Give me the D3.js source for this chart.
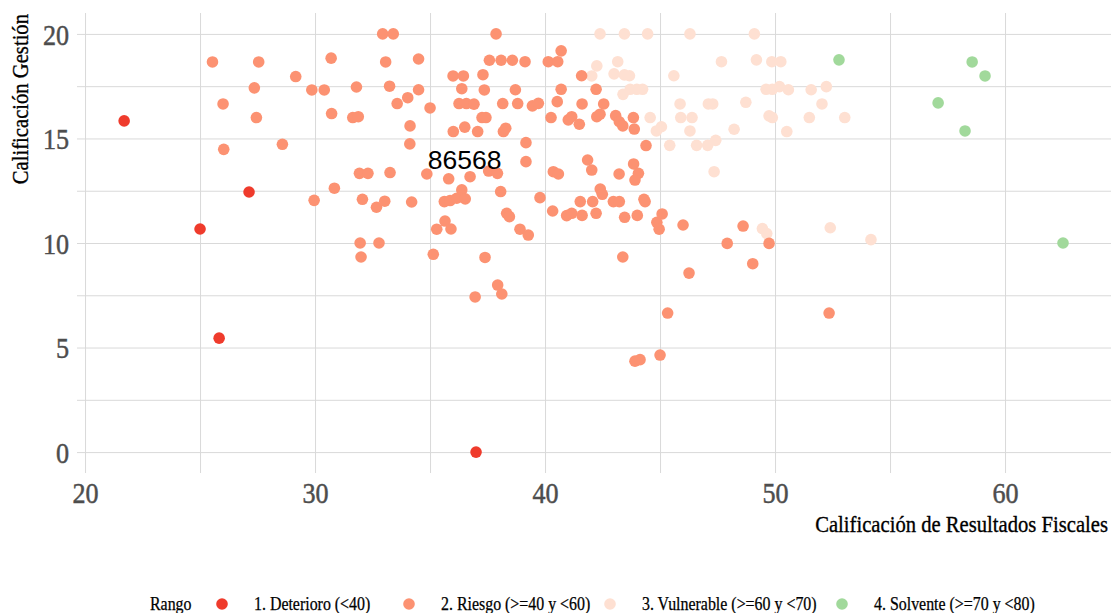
<!DOCTYPE html>
<html>
<head>
<meta charset="utf-8">
<script src="https://cdn.jsdelivr.net/npm/d3@7"></script>
<style>
  html, body { margin: 0; padding: 0; background: #fff; }
  svg { display: block; }
</style>
</head>
<body>
<div id="chart"></div>
<script>
// Calificación de Resultados Fiscales (x) vs Calificación Gestión (y)

const rangos   = ['1. Deterioro (<40)', '2. Riesgo (>=40 y <60)', '3. Vulnerable (>=60 y <70)', '4. Solvente (>=70 y <80)'];
const colores  = ['#EF3B2C', '#FC9272', '#FEE0D2', '#A1D99B'];

const xTicks = [20, 30, 40, 50, 60];
const yTicks = [0, 5, 10, 15, 20];
const xMinor = [25, 35, 45, 55];
const yMinor = [2.5, 7.5, 12.5, 17.5];

const etiqueta = { texto: '86568', x: 36.5, y: 14.0 };

// [resultados fiscales, gestión]
const deterioro = [
  [21.70, 15.84], [25.00, 10.67], [27.13, 12.44], [25.83, 5.45], [37.00, 0.00]
];

const vulnerable = [
  [42.39, 20.00], [43.45, 20.00], [44.46, 20.00], [46.30, 20.00], [49.10, 20.00],
  [42.25, 18.47], [43.16, 18.67], [42.03, 17.99], [43.00, 18.09], [43.45, 18.04],
  [43.67, 18.00], [45.60, 18.00], [47.67, 18.67], [49.19, 18.76], [49.86, 18.67],
  [50.25, 18.67], [43.39, 17.11], [43.70, 17.35], [43.99, 17.35], [44.24, 17.35],
  [49.61, 17.35], [49.88, 17.35], [50.19, 17.48], [50.58, 17.33], [51.57, 17.33],
  [52.23, 17.48], [45.87, 16.65], [47.10, 16.65], [47.29, 16.65], [48.73, 16.73],
  [52.04, 16.65], [44.57, 16.00], [45.90, 16.00], [46.39, 16.00], [49.74, 16.08],
  [49.88, 16.00], [51.49, 16.00], [53.03, 16.00], [44.84, 15.36], [45.06, 15.56],
  [46.30, 15.36], [48.22, 15.44], [50.51, 15.33], [45.42, 14.67], [46.59, 14.67],
  [47.07, 14.67], [47.42, 14.91], [47.35, 13.41], [49.45, 10.69], [49.64, 10.45],
  [52.40, 10.73], [54.17, 10.16]
];

const riesgo = [
  [25.54, 18.66], [27.55, 18.66], [29.16, 17.96], [30.70, 18.84], [27.36, 17.42],
  [29.86, 17.32], [30.40, 17.32], [31.80, 17.46], [26.00, 16.65], [27.45, 16.00],
  [30.72, 16.19], [31.64, 16.00], [31.88, 16.04], [26.03, 14.48], [28.58, 14.72],
  [31.93, 13.33], [32.30, 13.33], [30.84, 12.62], [29.96, 12.04], [32.06, 12.09],
  [31.96, 10.00], [32.00, 9.33], [32.94, 20.00], [33.40, 20.00], [33.07, 18.66],
  [34.50, 18.80], [37.87, 20.00], [37.58, 18.74], [38.09, 18.74], [38.58, 18.74],
  [39.13, 18.67], [36.00, 17.99], [36.45, 17.99], [37.30, 18.05], [33.24, 17.50],
  [34.50, 17.33], [36.38, 17.38], [37.36, 17.32], [38.71, 17.33], [33.57, 16.67],
  [34.03, 16.95], [35.00, 16.46], [36.26, 16.67], [36.58, 16.67], [36.91, 16.64],
  [38.16, 16.67], [38.81, 16.67], [39.45, 16.56], [39.71, 16.68], [34.13, 15.60],
  [36.01, 15.33], [36.51, 15.54], [37.07, 15.33], [37.26, 16.00], [37.43, 16.00],
  [38.19, 15.33], [38.29, 15.49], [39.17, 14.80], [39.17, 13.89], [34.12, 14.74],
  [33.26, 13.37], [34.86, 13.30], [35.81, 13.07], [36.74, 13.17], [37.55, 13.44],
  [37.93, 13.33], [32.67, 11.71], [33.03, 12.00], [34.20, 11.96], [35.62, 11.98],
  [35.87, 12.03], [36.16, 12.14], [36.38, 12.54], [36.53, 12.11], [38.07, 12.46],
  [38.33, 11.42], [38.45, 11.26], [38.91, 10.66], [39.27, 10.38], [35.29, 10.66],
  [35.65, 11.05], [35.91, 10.67], [32.78, 10.00], [35.14, 9.46], [37.39, 9.31],
  [37.94, 7.99], [38.12, 7.56], [36.96, 7.42], [43.38, 9.33], [46.26, 8.56],
  [45.33, 6.65], [43.91, 4.35], [44.13, 4.42], [45.00, 4.64], [47.92, 9.98],
  [49.74, 9.98], [49.03, 9.01], [52.35, 6.65], [39.78, 12.17], [40.33, 11.53],
  [40.94, 11.31], [41.16, 11.42], [41.53, 11.98], [41.61, 11.32], [42.07, 11.98],
  [42.22, 11.42], [42.40, 12.58], [42.49, 12.33], [42.97, 11.98], [43.23, 11.98],
  [43.46, 11.23], [44.01, 11.32], [44.30, 12.09], [44.35, 11.98], [45.09, 11.39],
  [44.86, 10.99], [44.96, 10.66], [46.00, 10.86], [48.61, 10.81], [40.36, 13.41],
  [40.58, 13.30], [43.22, 13.30], [43.85, 13.78], [44.06, 13.33], [43.91, 13.01],
  [40.70, 19.19], [40.14, 18.67], [40.55, 18.67], [41.59, 18.00], [40.70, 17.35],
  [42.22, 17.35], [40.53, 16.76], [41.61, 16.65], [42.55, 16.65], [40.26, 16.00],
  [41.01, 15.89], [41.16, 16.04], [41.49, 15.68], [42.25, 16.04], [42.39, 16.16],
  [43.07, 16.09], [43.23, 15.80], [43.38, 15.60], [43.84, 16.00], [43.88, 15.45],
  [44.39, 14.66], [41.85, 13.97], [42.03, 13.49]
];

const solvente = [
  [52.78, 18.76], [58.57, 18.66], [59.13, 17.99], [57.09, 16.70], [58.26, 15.36], [62.52, 10.00]
];

// draw order: light first, then salmon, then the rest
const capas = [
  { serie: vulnerable, color: colores[2] },
  { serie: riesgo,     color: colores[1] },
  { serie: deterioro,  color: colores[0] },
  { serie: solvente,   color: colores[3] }
];

const W = 1111, H = 613;
const m = { top: 13, left: 77, right: -1, bottom: 140 };
const iw = W - m.left - m.right;
const ih = H - m.top - m.bottom;

const SERIF = "'Liberation Serif', 'DejaVu Serif', serif";
const GRID  = '#d9d9d9';
const NARROW = 0.86;

// squeeze serif glyphs so they read like the narrow face in the original
function condense(sel, k) {
  sel.each(function() {
    const w = this.getComputedTextLength();
    this.setAttribute('textLength', (w * k).toFixed(1));
    this.setAttribute('lengthAdjust', 'spacingAndGlyphs');
  });
}

const svg = d3.select('#chart').append('svg')
  .attr('width', W)
  .attr('height', H)
  .attr('viewBox', `0 0 ${W} ${H}`);

const g = svg.append('g').attr('transform', `translate(${m.left},${m.top})`);

const x = d3.scaleLinear().domain([19.65, 64.65]).range([0, iw]);
const y = d3.scaleLinear().domain([-1, 21]).range([ih, 0]);

// Grid (minor + major)
g.append('g')
  .call(d3.axisBottom(x).tickValues(xMinor.concat(xTicks)).tickSize(ih).tickFormat(''))
  .call(a => a.select('.domain').remove())
  .call(a => a.selectAll('.tick line').attr('stroke', GRID).attr('stroke-width', 1));

g.append('g')
  .call(d3.axisLeft(y).tickValues(yMinor.concat(yTicks)).tickSize(-iw).tickFormat(''))
  .call(a => a.select('.domain').remove())
  .call(a => a.selectAll('.tick line').attr('stroke', GRID).attr('stroke-width', 1));

// Axis labels
const yAx = g.append('g')
  .call(d3.axisLeft(y).tickValues(yTicks).tickSize(0).tickPadding(8))
  .call(a => a.select('.domain').remove());
yAx.selectAll('.tick text')
  .attr('font-family', SERIF).attr('font-size', 30).attr('fill', '#4d4d4d')
  .attr('stroke', '#4d4d4d').attr('stroke-width', 0.5)
  .attr('dy', '0.34em');
condense(yAx.selectAll('.tick text'), 0.87);

const xAx = g.append('g')
  .attr('transform', `translate(0,${ih})`)
  .call(d3.axisBottom(x).tickValues(xTicks).tickSize(0).tickPadding(10))
  .call(a => a.select('.domain').remove());
xAx.selectAll('.tick text')
  .attr('font-family', SERIF).attr('font-size', 30).attr('fill', '#4d4d4d')
  .attr('stroke', '#4d4d4d').attr('stroke-width', 0.5)
  .attr('dy', '0.66em');
condense(xAx.selectAll('.tick text'), 0.87);

// Axis titles (narrowed with a scale transform)
svg.append('text')
  .attr('transform', `translate(1108,532) scale(${NARROW},1)`)
  .attr('text-anchor', 'end')
  .attr('font-family', SERIF).attr('font-size', 24).attr('fill', '#000')
  .attr('stroke', '#000').attr('stroke-width', 0.35)
  .text('Calificación de Resultados Fiscales');

svg.append('text')
  .attr('transform', `translate(28,${m.top + 1}) rotate(-90) scale(${NARROW},1)`)
  .attr('text-anchor', 'end')
  .attr('font-family', SERIF).attr('font-size', 24).attr('fill', '#000')
  .attr('stroke', '#000').attr('stroke-width', 0.35)
  .text('Calificación Gestión');

// Points
capas.forEach(c => {
  g.append('g').selectAll('circle')
    .data(c.serie).enter()
    .append('circle')
    .attr('cx', d => x(d[0]))
    .attr('cy', d => y(d[1]))
    .attr('r', 5.8)
    .attr('fill', c.color);
});

// Text label
g.append('text')
  .attr('x', x(etiqueta.x)).attr('y', y(etiqueta.y))
  .attr('dy', '0.35em')
  .attr('text-anchor', 'middle')
  .attr('font-family', "'Liberation Sans', Arial, sans-serif")
  .attr('font-size', 26.5).attr('fill', '#000')
  .text(etiqueta.texto);

// Legend
const legY = 604;
const leg = svg.append('g');
const rangoTxt = leg.append('text')
  .attr('x', 150).attr('y', legY).attr('dy', '0.35em')
  .attr('font-family', SERIF).attr('font-size', 18.5).attr('fill', '#000')
  .attr('stroke', '#000').attr('stroke-width', 0.25)
  .text('Rango');
condense(rangoTxt, NARROW);

const legX = [222, 409, 610, 842];
rangos.forEach((r, i) => {
  leg.append('circle')
    .attr('cx', legX[i]).attr('cy', legY)
    .attr('r', 5.8).attr('fill', colores[i]);
  const t = leg.append('text')
    .attr('x', legX[i] + 32).attr('y', legY).attr('dy', '0.35em')
    .attr('font-family', SERIF).attr('font-size', 18.5).attr('fill', '#000')
    .attr('stroke', '#000').attr('stroke-width', 0.25)
    .text(r);
  condense(t, NARROW);
});
</script>
</body>
</html>
